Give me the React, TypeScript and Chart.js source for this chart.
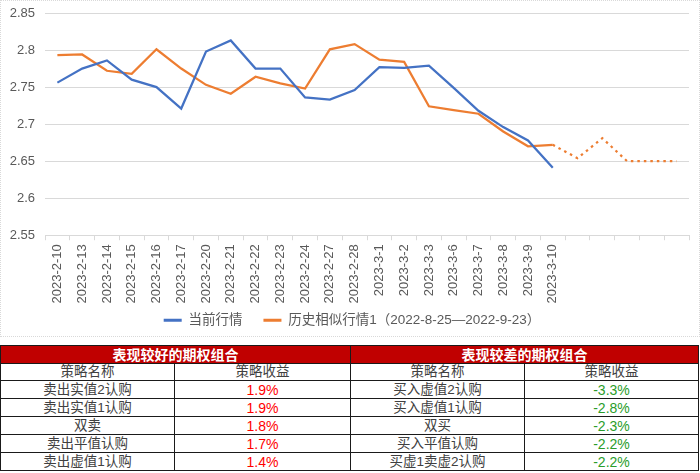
import React, { useEffect, useRef } from "react";
import { Chart, registerables } from "chart.js";

Chart.register(...registerables);

const categories = [
  "2023-2-10", "2023-2-13", "2023-2-14", "2023-2-15", "2023-2-16", "2023-2-17",
  "2023-2-20", "2023-2-21", "2023-2-22", "2023-2-23", "2023-2-24", "2023-2-27",
  "2023-2-28", "2023-3-1", "2023-3-2", "2023-3-3", "2023-3-6", "2023-3-7",
  "2023-3-8", "2023-3-9", "2023-3-10", "", "", "", "", "",
];

const currentSeries = [
  2.756, 2.775, 2.786, 2.760, 2.750, 2.721, 2.798, 2.813, 2.775, 2.775, 2.736,
  2.733, 2.746, 2.777, 2.776, 2.779, 2.749, 2.718, 2.696, 2.678, 2.641,
];

const historySeries = [
  2.793, 2.794, 2.772, 2.768, 2.801, 2.775, 2.753, 2.741, 2.764, 2.755, 2.748,
  2.801, 2.808, 2.787, 2.784, 2.724, 2.719, 2.714, 2.690, 2.670, 2.672, 2.654,
  2.681, 2.650, 2.650, 2.650,
];

const seriesNames = ["当前行情", "历史相似行情1（2022-8-25—2022-9-23）"];

const yMin = 2.55;
const yMax = 2.85;
const yStep = 0.05;

const goodTitle = "表现较好的期权组合";
const badTitle = "表现较差的期权组合";
const headerName = "策略名称";
const headerReturn = "策略收益";
const goodNames = ["卖出实值2认购", "卖出实值1认购", "双卖", "卖出平值认购", "卖出虚值1认购"];
const goodReturns = ["1.9%", "1.9%", "1.8%", "1.7%", "1.4%"];
const badNames = ["买入虚值2认购", "买入虚值1认购", "双买", "买入平值认购", "买虚1卖虚2认购"];
const badReturns = ["-3.3%", "-2.8%", "-2.3%", "-2.2%", "-2.2%"];

const FONT = '"Liberation Sans", "Noto Sans CJK SC", sans-serif';
const BLUE = "#4472c4";
const ORANGE = "#ed7d31";
const DOTTED_FROM = 20;
const LEGEND_SHIFT_Y = 15;
const LEGEND_SHIFT_X = 7;

const legendShiftPlugin = {
  id: "legendShift",
  afterLayout(chart: any) {
    const lg = chart.legend;
    if (lg) {
      lg.top -= LEGEND_SHIFT_Y;
      lg.bottom -= LEGEND_SHIFT_Y;
      lg.left += LEGEND_SHIFT_X;
      lg.right += LEGEND_SHIFT_X;
    }
  },
};

export default function App() {
  const canvasRef = useRef<HTMLCanvasElement | null>(null);

  useEffect(() => {
    document.body.style.margin = "0";
    const canvas = canvasRef.current;
    if (!canvas) return;
    const chart = new Chart(canvas, {
      type: "line",
      plugins: [legendShiftPlugin],
      data: {
        labels: categories,
        datasets: [
          {
            label: seriesNames[0],
            data: currentSeries,
            borderColor: BLUE,
            backgroundColor: BLUE,
            borderWidth: 2.25,
            pointRadius: 0,
            tension: 0,
          },
          {
            label: seriesNames[1],
            data: historySeries,
            borderColor: ORANGE,
            backgroundColor: ORANGE,
            borderWidth: 2.25,
            pointRadius: 0,
            tension: 0,
            segment: {
              borderDash: (ctx: any) => (ctx.p0DataIndex >= DOTTED_FROM ? [2.5, 4] : undefined),
            },
          },
        ],
      },
      options: {
        animation: false,
        responsive: false,
        maintainAspectRatio: false,
        layout: { padding: { top: 12, right: 10, left: 0, bottom: -16 } },
        plugins: {
          tooltip: { enabled: false },
          legend: {
            position: "bottom",
            labels: {
              font: { family: FONT, size: 13.5 },
              color: "#595959",
              boxWidth: 18,
              boxHeight: 3,
              padding: 21,
              generateLabels: (c: any) =>
                c.data.datasets.map((ds: any, i: number) => ({
                  text: ds.label,
                  fillStyle: ds.borderColor,
                  strokeStyle: ds.borderColor,
                  lineWidth: 0,
                  hidden: false,
                  datasetIndex: i,
                  fontColor: "#595959",
                })),
            },
          },
        },
        scales: {
          x: {
            type: "category",
            offset: true,
            grid: {
              offset: true,
              drawOnChartArea: false,
              drawTicks: true,
              tickLength: 5,
              color: "#d9d9d9",
            },
            border: { display: true, color: "#d9d9d9" },
            ticks: {
              autoSkip: false,
              maxRotation: 90,
              minRotation: 90,
              padding: 4,
              color: "#595959",
              font: { family: FONT, size: 13 },
            },
          },
          y: {
            min: yMin,
            max: yMax,
            grid: { color: "#d9d9d9", drawTicks: false },
            border: { display: false },
            ticks: {
              stepSize: yStep,
              padding: 10,
              color: "#595959",
              font: { family: FONT, size: 13 },
              callback: (v: any) => String(+Number(v).toFixed(2)),
            },
            afterFit: (scale: any) => {
              scale.width = 44;
              scale.paddingTop = 0;
              scale.paddingBottom = 0;
            },
          },
        },
      },
    });
    return () => chart.destroy();
  }, []);

  const cellBase: React.CSSProperties = {
    border: "1px solid #1a1a1a",
    padding: 0,
    textAlign: "center",
    verticalAlign: "middle",
    lineHeight: "16px",
  };
  const titleCell: React.CSSProperties = {
    ...cellBase,
    background: "#c00000",
    color: "#ffffff",
    fontWeight: "bold",
    fontSize: 14,
  };
  const textCell: React.CSSProperties = { ...cellBase, color: "#404040", fontSize: 13.5 };
  const numCell = (color: string): React.CSSProperties => ({ ...cellBase, color, fontSize: 14 });

  return (
    <div style={{ width: 700, height: 473, position: "relative", fontFamily: FONT, background: "#fff" }}>
      <div
        style={{
          width: 700,
          height: 337,
          border: "1px dotted #d9d9d9",
          boxSizing: "border-box",
          position: "absolute",
          left: 0,
          top: 0,
        }}
      >
        <canvas ref={canvasRef} width={698} height={335} style={{ display: "block", width: 698, height: 335 }} />
      </div>
      <table
        style={{
          position: "absolute",
          left: 0,
          top: 345,
          width: 698,
          borderCollapse: "collapse",
          tableLayout: "fixed",
          fontFamily: FONT,
        }}
      >
        <colgroup>
          <col style={{ width: 174 }} />
          <col style={{ width: 176 }} />
          <col style={{ width: 174 }} />
          <col style={{ width: 174 }} />
        </colgroup>
        <tbody>
          <tr style={{ height: 18 }}>
            <td colSpan={2} style={titleCell}>{goodTitle}</td>
            <td colSpan={2} style={titleCell}>{badTitle}</td>
          </tr>
          <tr style={{ height: 17 }}>
            <td style={textCell}>{headerName}</td>
            <td style={textCell}>{headerReturn}</td>
            <td style={textCell}>{headerName}</td>
            <td style={textCell}>{headerReturn}</td>
          </tr>
          {goodNames.map((name, i) => (
            <tr key={i} style={{ height: 18 }}>
              <td style={textCell}>{name}</td>
              <td style={numCell("#ff0000")}>{goodReturns[i]}</td>
              <td style={textCell}>{badNames[i]}</td>
              <td style={numCell("#2a9d2a")}>{badReturns[i]}</td>
            </tr>
          ))}
        </tbody>
      </table>
    </div>
  );
}
